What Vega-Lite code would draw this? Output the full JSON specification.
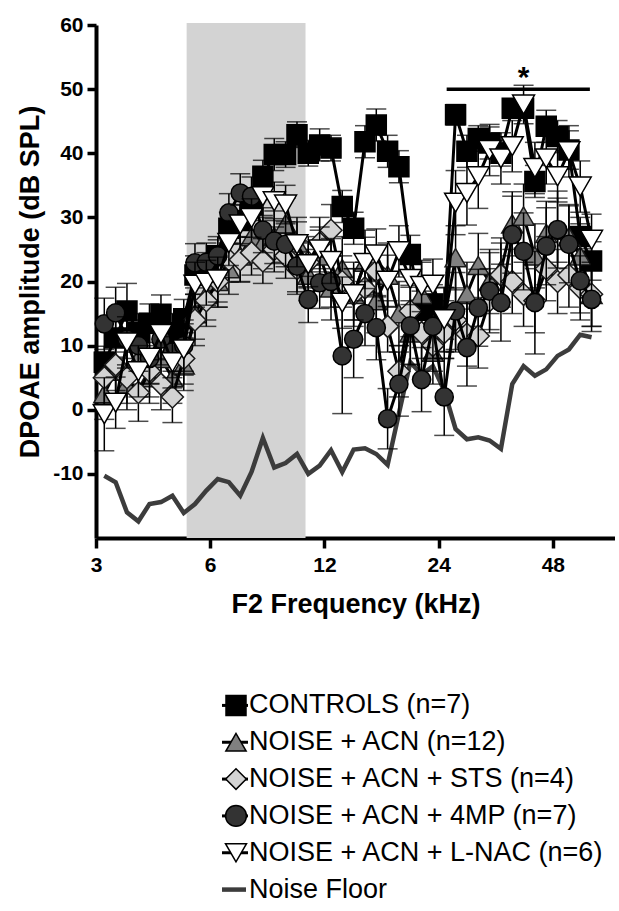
{
"$schema":"https://vega.github.io/schema/vega-lite/v6.json",
"background":"white",
"padding":{"left":16,"top":14,"right":0,"bottom":0},
"config":{"view":{"stroke":null},"font":"Liberation Sans","concat":{"spacing":70}},
"datasets":{
"dpoae":[
{"group":"CONTROLS","freq":3.155,"db":7.4,"sem":2.5},{"group":"CONTROLS","freq":3.38,"db":11.2,"sem":3},{"group":"CONTROLS","freq":3.62,"db":15.4,"sem":4.3},{"group":"CONTROLS","freq":3.88,"db":12,"sem":3},{"group":"CONTROLS","freq":4.15,"db":13.5,"sem":3},{"group":"CONTROLS","freq":4.45,"db":14.9,"sem":3},{"group":"CONTROLS","freq":4.77,"db":12,"sem":3},{"group":"CONTROLS","freq":5.11,"db":14.2,"sem":3},{"group":"CONTROLS","freq":5.47,"db":21,"sem":3},{"group":"CONTROLS","freq":5.86,"db":22,"sem":2.5},{"group":"CONTROLS","freq":6.28,"db":24,"sem":2.5},{"group":"CONTROLS","freq":6.72,"db":28.3,"sem":2.5},{"group":"CONTROLS","freq":7.2,"db":29.5,"sem":2.5},{"group":"CONTROLS","freq":7.71,"db":32,"sem":2.5},{"group":"CONTROLS","freq":8.26,"db":36.4,"sem":2.5},{"group":"CONTROLS","freq":8.85,"db":39.8,"sem":2.5},{"group":"CONTROLS","freq":9.48,"db":39.8,"sem":2},{"group":"CONTROLS","freq":10.16,"db":42.9,"sem":2},{"group":"CONTROLS","freq":10.88,"db":40,"sem":2},{"group":"CONTROLS","freq":11.66,"db":41.3,"sem":2.5},{"group":"CONTROLS","freq":12.49,"db":40.8,"sem":2},{"group":"CONTROLS","freq":13.37,"db":31.7,"sem":2.5},{"group":"CONTROLS","freq":14.33,"db":28.3,"sem":2.5},{"group":"CONTROLS","freq":15.35,"db":41.8,"sem":2.5},{"group":"CONTROLS","freq":16.44,"db":44.4,"sem":2.5},{"group":"CONTROLS","freq":17.61,"db":40.3,"sem":2.5},{"group":"CONTROLS","freq":18.86,"db":37.9,"sem":2.5},{"group":"CONTROLS","freq":20.21,"db":24.2,"sem":3},{"group":"CONTROLS","freq":21.64,"db":15.5,"sem":3},{"group":"CONTROLS","freq":23.18,"db":16.5,"sem":3},{"group":"CONTROLS","freq":24.83,"db":14,"sem":3},{"group":"CONTROLS","freq":26.6,"db":46,"sem":1.6},{"group":"CONTROLS","freq":28.5,"db":40.3,"sem":2.5},{"group":"CONTROLS","freq":30.53,"db":42.3,"sem":2},{"group":"CONTROLS","freq":32.7,"db":41.6,"sem":2.5},{"group":"CONTROLS","freq":35.03,"db":40,"sem":2},{"group":"CONTROLS","freq":37.52,"db":47,"sem":1.5},{"group":"CONTROLS","freq":40.19,"db":47,"sem":1.5},{"group":"CONTROLS","freq":43.05,"db":35.6,"sem":2.5},{"group":"CONTROLS","freq":46.12,"db":44.2,"sem":2.5},{"group":"CONTROLS","freq":49.4,"db":42.6,"sem":2.5},{"group":"CONTROLS","freq":52.92,"db":40.5,"sem":3},{"group":"CONTROLS","freq":56.68,"db":27,"sem":3},{"group":"CONTROLS","freq":60.72,"db":23.2,"sem":3},
{"group":"ACN","freq":3.155,"db":2.5,"sem":4},{"group":"ACN","freq":3.38,"db":6,"sem":4},{"group":"ACN","freq":3.62,"db":4,"sem":4},{"group":"ACN","freq":3.88,"db":8,"sem":4},{"group":"ACN","freq":4.15,"db":5,"sem":4},{"group":"ACN","freq":4.45,"db":8,"sem":4},{"group":"ACN","freq":4.77,"db":5,"sem":4},{"group":"ACN","freq":5.11,"db":7,"sem":4},{"group":"ACN","freq":5.47,"db":15,"sem":4},{"group":"ACN","freq":5.86,"db":18,"sem":4},{"group":"ACN","freq":6.28,"db":20,"sem":4},{"group":"ACN","freq":6.72,"db":22,"sem":4},{"group":"ACN","freq":7.2,"db":24,"sem":4},{"group":"ACN","freq":7.71,"db":27,"sem":4},{"group":"ACN","freq":8.26,"db":26,"sem":4},{"group":"ACN","freq":8.85,"db":27,"sem":4},{"group":"ACN","freq":9.48,"db":29,"sem":4},{"group":"ACN","freq":10.16,"db":26,"sem":4},{"group":"ACN","freq":10.88,"db":21,"sem":4},{"group":"ACN","freq":11.66,"db":24,"sem":4},{"group":"ACN","freq":12.49,"db":19,"sem":5},{"group":"ACN","freq":13.37,"db":22,"sem":5},{"group":"ACN","freq":14.33,"db":18,"sem":5},{"group":"ACN","freq":15.35,"db":23,"sem":5},{"group":"ACN","freq":16.44,"db":17,"sem":5},{"group":"ACN","freq":17.61,"db":21,"sem":5},{"group":"ACN","freq":18.86,"db":15,"sem":5},{"group":"ACN","freq":20.21,"db":12,"sem":5},{"group":"ACN","freq":21.64,"db":18,"sem":5},{"group":"ACN","freq":23.18,"db":9,"sem":5},{"group":"ACN","freq":24.83,"db":14,"sem":5},{"group":"ACN","freq":26.6,"db":23.7,"sem":5},{"group":"ACN","freq":28.5,"db":18,"sem":5},{"group":"ACN","freq":30.53,"db":22.5,"sem":5},{"group":"ACN","freq":32.7,"db":20,"sem":5},{"group":"ACN","freq":35.03,"db":21.8,"sem":5},{"group":"ACN","freq":37.52,"db":29,"sem":5},{"group":"ACN","freq":40.19,"db":30.2,"sem":5},{"group":"ACN","freq":43.05,"db":24,"sem":5},{"group":"ACN","freq":46.12,"db":27.5,"sem":5},{"group":"ACN","freq":49.4,"db":28,"sem":5},{"group":"ACN","freq":52.92,"db":27,"sem":5},{"group":"ACN","freq":56.68,"db":24,"sem":5},{"group":"ACN","freq":60.72,"db":18,"sem":5},
{"group":"STS","freq":3.155,"db":5,"sem":4},{"group":"STS","freq":3.38,"db":7,"sem":4},{"group":"STS","freq":3.62,"db":5,"sem":4},{"group":"STS","freq":3.88,"db":2.7,"sem":4.5},{"group":"STS","freq":4.15,"db":6,"sem":4},{"group":"STS","freq":4.45,"db":4,"sem":4},{"group":"STS","freq":4.77,"db":2,"sem":4},{"group":"STS","freq":5.11,"db":8,"sem":4},{"group":"STS","freq":5.47,"db":14,"sem":4},{"group":"STS","freq":5.86,"db":17,"sem":4},{"group":"STS","freq":6.28,"db":20,"sem":4},{"group":"STS","freq":6.72,"db":23.4,"sem":3.5},{"group":"STS","freq":7.2,"db":23.4,"sem":3.5},{"group":"STS","freq":7.71,"db":24.5,"sem":3.5},{"group":"STS","freq":8.26,"db":23.2,"sem":3.5},{"group":"STS","freq":8.85,"db":25,"sem":3.5},{"group":"STS","freq":9.48,"db":24,"sem":3.5},{"group":"STS","freq":10.16,"db":22,"sem":4},{"group":"STS","freq":10.88,"db":23,"sem":4},{"group":"STS","freq":11.66,"db":26,"sem":4},{"group":"STS","freq":12.49,"db":28,"sem":4},{"group":"STS","freq":13.37,"db":20,"sem":4},{"group":"STS","freq":14.33,"db":18,"sem":4},{"group":"STS","freq":15.35,"db":19,"sem":4},{"group":"STS","freq":16.44,"db":21.6,"sem":4},{"group":"STS","freq":17.61,"db":13,"sem":4},{"group":"STS","freq":18.86,"db":6,"sem":4},{"group":"STS","freq":20.21,"db":15.4,"sem":4},{"group":"STS","freq":21.64,"db":12,"sem":4},{"group":"STS","freq":23.18,"db":10,"sem":4},{"group":"STS","freq":24.83,"db":12,"sem":4},{"group":"STS","freq":26.6,"db":14,"sem":5},{"group":"STS","freq":28.5,"db":11.8,"sem":5},{"group":"STS","freq":30.53,"db":11.5,"sem":5},{"group":"STS","freq":32.7,"db":17,"sem":5},{"group":"STS","freq":35.03,"db":21,"sem":5},{"group":"STS","freq":37.52,"db":20,"sem":5},{"group":"STS","freq":40.19,"db":18,"sem":5},{"group":"STS","freq":43.05,"db":17,"sem":5},{"group":"STS","freq":46.12,"db":22,"sem":5},{"group":"STS","freq":49.4,"db":20,"sem":5},{"group":"STS","freq":52.92,"db":21,"sem":5},{"group":"STS","freq":56.68,"db":19,"sem":5},{"group":"STS","freq":60.72,"db":18,"sem":5},
{"group":"4MP","freq":3.155,"db":13.4,"sem":4},{"group":"4MP","freq":3.38,"db":15.1,"sem":4},{"group":"4MP","freq":3.62,"db":11,"sem":4},{"group":"4MP","freq":3.88,"db":10,"sem":4},{"group":"4MP","freq":4.15,"db":8,"sem":4},{"group":"4MP","freq":4.45,"db":11,"sem":4},{"group":"4MP","freq":4.77,"db":9,"sem":4},{"group":"4MP","freq":5.11,"db":10,"sem":4},{"group":"4MP","freq":5.47,"db":22.9,"sem":3},{"group":"4MP","freq":5.86,"db":23,"sem":3},{"group":"4MP","freq":6.28,"db":24,"sem":3},{"group":"4MP","freq":6.72,"db":30.7,"sem":3},{"group":"4MP","freq":7.2,"db":33.8,"sem":3},{"group":"4MP","freq":7.71,"db":33.3,"sem":3},{"group":"4MP","freq":8.26,"db":28,"sem":3.5},{"group":"4MP","freq":8.85,"db":26.3,"sem":3.5},{"group":"4MP","freq":9.48,"db":25.8,"sem":3.5},{"group":"4MP","freq":10.16,"db":22.4,"sem":4},{"group":"4MP","freq":10.88,"db":17.2,"sem":3.6},{"group":"4MP","freq":11.66,"db":19.8,"sem":4},{"group":"4MP","freq":12.49,"db":20,"sem":4},{"group":"4MP","freq":13.37,"db":8.4,"sem":9},{"group":"4MP","freq":14.33,"db":11,"sem":6},{"group":"4MP","freq":15.35,"db":15,"sem":5},{"group":"4MP","freq":16.44,"db":12.8,"sem":5},{"group":"4MP","freq":17.61,"db":-1.4,"sem":4.7},{"group":"4MP","freq":18.86,"db":4,"sem":5},{"group":"4MP","freq":20.21,"db":13.1,"sem":6},{"group":"4MP","freq":21.64,"db":4.7,"sem":5},{"group":"4MP","freq":23.18,"db":13,"sem":5},{"group":"4MP","freq":24.83,"db":2,"sem":6},{"group":"4MP","freq":26.6,"db":15.4,"sem":6},{"group":"4MP","freq":28.5,"db":9.7,"sem":6},{"group":"4MP","freq":30.53,"db":15.9,"sem":6},{"group":"4MP","freq":32.7,"db":18.5,"sem":6},{"group":"4MP","freq":35.03,"db":16.7,"sem":6},{"group":"4MP","freq":37.52,"db":27.3,"sem":6},{"group":"4MP","freq":40.19,"db":24.7,"sem":6},{"group":"4MP","freq":43.05,"db":16.7,"sem":8},{"group":"4MP","freq":46.12,"db":25.5,"sem":6},{"group":"4MP","freq":49.4,"db":28.1,"sem":6},{"group":"4MP","freq":52.92,"db":25.8,"sem":6},{"group":"4MP","freq":56.68,"db":20.1,"sem":5},{"group":"4MP","freq":60.72,"db":17.2,"sem":5},
{"group":"LNAC","freq":3.155,"db":-0.7,"sem":5.7},{"group":"LNAC","freq":3.38,"db":1.1,"sem":4},{"group":"LNAC","freq":3.62,"db":10.5,"sem":4},{"group":"LNAC","freq":3.88,"db":6,"sem":4},{"group":"LNAC","freq":4.15,"db":8.1,"sem":4},{"group":"LNAC","freq":4.45,"db":11.8,"sem":4},{"group":"LNAC","freq":4.77,"db":7.4,"sem":4},{"group":"LNAC","freq":5.11,"db":9.4,"sem":4},{"group":"LNAC","freq":5.47,"db":19.5,"sem":3.5},{"group":"LNAC","freq":5.86,"db":19.8,"sem":3.5},{"group":"LNAC","freq":6.28,"db":20.3,"sem":3.5},{"group":"LNAC","freq":6.72,"db":26,"sem":3.5},{"group":"LNAC","freq":7.2,"db":28.9,"sem":3},{"group":"LNAC","freq":7.71,"db":29.9,"sem":3},{"group":"LNAC","freq":8.26,"db":33.3,"sem":3},{"group":"LNAC","freq":8.85,"db":32.5,"sem":3},{"group":"LNAC","freq":9.48,"db":32,"sem":3},{"group":"LNAC","freq":10.16,"db":25.8,"sem":3.5},{"group":"LNAC","freq":10.88,"db":22.7,"sem":3.5},{"group":"LNAC","freq":11.66,"db":25,"sem":3.5},{"group":"LNAC","freq":12.49,"db":23.2,"sem":3.5},{"group":"LNAC","freq":13.37,"db":16.7,"sem":4},{"group":"LNAC","freq":14.33,"db":18,"sem":4},{"group":"LNAC","freq":15.35,"db":22.9,"sem":4},{"group":"LNAC","freq":16.44,"db":24.2,"sem":4},{"group":"LNAC","freq":17.61,"db":20.1,"sem":4},{"group":"LNAC","freq":18.86,"db":24.7,"sem":4},{"group":"LNAC","freq":20.21,"db":20.4,"sem":4},{"group":"LNAC","freq":21.64,"db":19.3,"sem":4},{"group":"LNAC","freq":23.18,"db":19.5,"sem":4},{"group":"LNAC","freq":24.83,"db":14.1,"sem":5},{"group":"LNAC","freq":26.6,"db":32.3,"sem":5},{"group":"LNAC","freq":28.5,"db":33.8,"sem":5},{"group":"LNAC","freq":30.53,"db":36.4,"sem":5},{"group":"LNAC","freq":32.7,"db":40.5,"sem":4},{"group":"LNAC","freq":35.03,"db":39.2,"sem":4},{"group":"LNAC","freq":37.52,"db":41.1,"sem":4},{"group":"LNAC","freq":40.19,"db":47.6,"sem":3},{"group":"LNAC","freq":43.05,"db":37.7,"sem":4},{"group":"LNAC","freq":46.12,"db":39.2,"sem":4},{"group":"LNAC","freq":49.4,"db":36.4,"sem":4},{"group":"LNAC","freq":52.92,"db":40.3,"sem":4},{"group":"LNAC","freq":56.68,"db":34.8,"sem":4},{"group":"LNAC","freq":60.72,"db":26.5,"sem":4}
],
"floor":[
{"freq":3.155,"db":-10.3},{"freq":3.38,"db":-11.3},{"freq":3.62,"db":-16},{"freq":3.88,"db":-17.4},{"freq":4.15,"db":-14.7},{"freq":4.45,"db":-14.4},{"freq":4.77,"db":-13.4},{"freq":5.11,"db":-16.1},{"freq":5.47,"db":-14.7},{"freq":5.86,"db":-12.6},{"freq":6.28,"db":-10.8},{"freq":6.72,"db":-11.3},{"freq":7.2,"db":-13.4},{"freq":7.71,"db":-9.7},{"freq":8.26,"db":-4.4},{"freq":8.85,"db":-9},{"freq":9.48,"db":-8.3},{"freq":10.16,"db":-6.9},{"freq":10.88,"db":-10},{"freq":11.66,"db":-8.7},{"freq":12.49,"db":-6.3},{"freq":13.37,"db":-9.7},{"freq":14.33,"db":-6.2},{"freq":15.35,"db":-6},{"freq":16.44,"db":-6.9},{"freq":17.61,"db":-8.6},{"freq":18.86,"db":-0.6},{"freq":20.21,"db":7.4},{"freq":21.64,"db":5.5},{"freq":23.18,"db":6.8},{"freq":24.83,"db":3},{"freq":26.6,"db":-3},{"freq":28.5,"db":-4.6},{"freq":30.53,"db":-4.3},{"freq":32.7,"db":-4.8},{"freq":35.03,"db":-6.1},{"freq":37.52,"db":4},{"freq":40.19,"db":6.8},{"freq":43.05,"db":5.3},{"freq":46.12,"db":6.3},{"freq":49.4,"db":8.4},{"freq":52.92,"db":9.4},{"freq":56.68,"db":11.7},{"freq":60.72,"db":11.3}
],
"signif":[{"label":"*","start":25.2,"end":60.1,"mid":40.2,"level":50}],
"band":[{"region":"noise exposure","start":5.2,"end":10.7,"low":-20,"high":60.3}],
"legend":[
{"group":"CONTROLS","label":"CONTROLS (n=7)"},{"group":"ACN","label":"NOISE + ACN (n=12)"},{"group":"STS","label":"NOISE + ACN + STS (n=4)"},{"group":"4MP","label":"NOISE + ACN + 4MP (n=7)"},{"group":"LNAC","label":"NOISE + ACN + L-NAC (n=6)"},{"group":"FLOOR","label":"Noise Floor"}
]
},
"vconcat":[
{
"width":519,"height":513,
"encoding":{
"x":{"field":"freq","type":"quantitative","scale":{"type":"log","base":2,"domain":[3,70],"nice":false},
 "axis":{"title":"F2 Frequency (kHz)","values":[3,6,12,24,48],"labelExpr":"'' + datum.value","grid":false,"labelFlush":false,"labelOverlap":false,"labelFontSize":21,"labelFontWeight":"bold","labelColor":"black","labelPadding":6,"tickSize":10,"tickWidth":3.5,"tickColor":"black","domainColor":"black","domainWidth":4,"titleFontSize":27,"titleFontWeight":"bold","titleColor":"black","titlePadding":16}},
"y":{"field":"db","type":"quantitative","scale":{"domain":[-20,60],"nice":false,"zero":false},
 "axis":{"title":"DPOAE amplitude (dB SPL)","values":[-10,0,10,20,30,40,50,60],"labelExpr":"'' + datum.value","grid":false,"labelFlush":false,"labelOverlap":false,"labelFontSize":21,"labelFontWeight":"bold","labelColor":"black","labelPadding":4,"tickSize":9,"tickWidth":3.5,"tickColor":"black","domainColor":"black","domainWidth":4,"titleFontSize":27,"titleFontWeight":"bold","titleColor":"black","titlePadding":8}}
},
"layer":[
{"data":{"name":"band"},"mark":{"type":"rect","color":"#d3d3d3"},"encoding":{"x":{"field":"start","type":"quantitative"},"x2":{"field":"end"},"y":{"field":"low","type":"quantitative"},"y2":{"field":"high"}}},
{"data":{"name":"floor"},"mark":{"type":"line","color":"#3c3c3c","strokeWidth":4.5}},
{"data":{"name":"dpoae"},"transform":[{"filter":"datum.group === 'CONTROLS'"}],"layer":[
 {"mark":{"type":"errorbar","ticks":true,"size":20,"thickness":1.5,"color":"black"},"encoding":{"yError":{"field":"sem"}}},
 {"mark":{"type":"line","color":"black","strokeWidth":3}},
 {"mark":{"type":"point","shape":"square","size":400,"filled":true,"fill":"#000000","stroke":"#000000","strokeWidth":1.5,"opacity":1}}
]},
{"data":{"name":"dpoae"},"transform":[{"filter":"datum.group === 'ACN'"}],"layer":[
 {"mark":{"type":"errorbar","ticks":true,"size":20,"thickness":1.5,"color":"black"},"encoding":{"yError":{"field":"sem"}}},
 {"mark":{"type":"line","color":"black","strokeWidth":3}},
 {"mark":{"type":"point","shape":"triangle-up","size":441,"filled":true,"fill":"#808080","stroke":"#1a1a1a","strokeWidth":1.5,"opacity":1}}
]},
{"data":{"name":"dpoae"},"transform":[{"filter":"datum.group === 'STS'"}],"layer":[
 {"mark":{"type":"errorbar","ticks":true,"size":20,"thickness":1.5,"color":"black"},"encoding":{"yError":{"field":"sem"}}},
 {"mark":{"type":"line","color":"black","strokeWidth":3}},
 {"mark":{"type":"point","shape":"diamond","size":484,"filled":true,"fill":"#d3d3d3","stroke":"#1a1a1a","strokeWidth":1.5,"opacity":1}}
]},
{"data":{"name":"dpoae"},"transform":[{"filter":"datum.group === '4MP'"}],"layer":[
 {"mark":{"type":"errorbar","ticks":true,"size":20,"thickness":1.5,"color":"black"},"encoding":{"yError":{"field":"sem"}}},
 {"mark":{"type":"line","color":"black","strokeWidth":3}},
 {"mark":{"type":"point","shape":"circle","size":330,"filled":true,"fill":"#333333","stroke":"#000000","strokeWidth":1.5,"opacity":1}}
]},
{"data":{"name":"dpoae"},"transform":[{"filter":"datum.group === 'LNAC'"}],"layer":[
 {"mark":{"type":"errorbar","ticks":true,"size":20,"thickness":1.5,"color":"black"},"encoding":{"yError":{"field":"sem"}}},
 {"mark":{"type":"line","color":"black","strokeWidth":3}},
 {"mark":{"type":"point","shape":"triangle-down","size":480,"filled":true,"fill":"#ffffff","stroke":"#000000","strokeWidth":1.5,"opacity":1}}
]},
{"data":{"name":"signif"},"mark":{"type":"rule","strokeWidth":3.5,"color":"black"},"encoding":{"x":{"field":"start","type":"quantitative"},"x2":{"field":"end"},"y":{"field":"level","type":"quantitative"}}},
{"data":{"name":"signif"},"mark":{"type":"text","fontSize":30,"fontWeight":"bold","baseline":"middle","align":"center","color":"black","dy":-11},"encoding":{"x":{"field":"mid","type":"quantitative"},"y":{"field":"level","type":"quantitative"},"text":{"field":"label"}}}
]
},
{
"width":519,"height":221,
"data":{"name":"legend"},
"encoding":{"y":{"field":"label","type":"nominal","sort":null,"scale":{"type":"point","padding":0.5},"axis":null}},
"layer":[
{"transform":[{"filter":"datum.group !== 'FLOOR'"}],"mark":{"type":"rule","color":"black","strokeWidth":3},"encoding":{"x":{"datum":126,"type":"quantitative","scale":{"domain":[0,519],"nice":false,"zero":false},"axis":null},"x2":{"datum":152}}},
{"transform":[{"filter":"datum.group === 'FLOOR'"}],"mark":{"type":"rule","color":"#3c3c3c","strokeWidth":4.5},"encoding":{"x":{"datum":126,"type":"quantitative"},"x2":{"datum":150}}},
{"transform":[{"filter":"datum.group !== 'FLOOR'"}],"mark":{"type":"point","filled":true,"opacity":1,"stroke":"black","strokeWidth":1.5},"encoding":{"x":{"datum":140,"type":"quantitative"},
 "shape":{"field":"group","type":"nominal","scale":{"domain":["CONTROLS","ACN","STS","4MP","LNAC"],"range":["square","triangle-up","diamond","circle","triangle-down"]},"legend":null},
 "fill":{"field":"group","type":"nominal","scale":{"domain":["CONTROLS","ACN","STS","4MP","LNAC"],"range":["#000000","#808080","#d3d3d3","#333333","#ffffff"]},"legend":null},
 "size":{"field":"group","type":"ordinal","scale":{"domain":["CONTROLS","ACN","STS","4MP","LNAC"],"range":[400,441,484,330,480]},"legend":null}}},
{"mark":{"type":"text","align":"left","baseline":"middle","fontSize":27,"color":"black"},"encoding":{"x":{"datum":153,"type":"quantitative"},"text":{"field":"label"}}}
]
}
]
}
